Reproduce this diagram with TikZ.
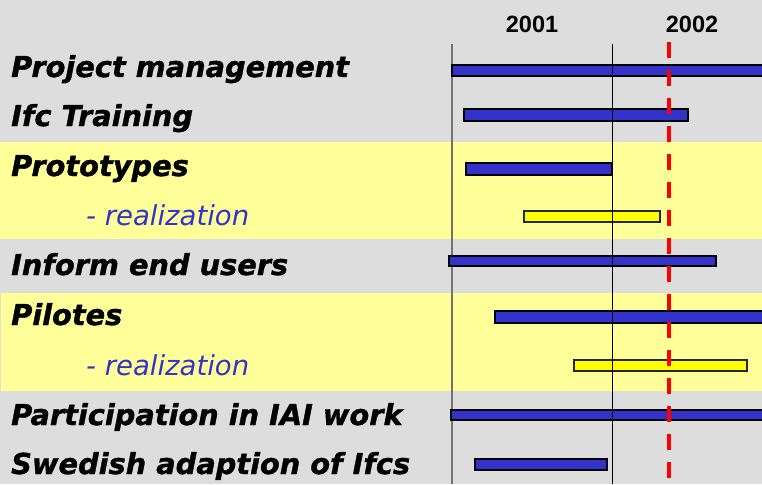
\documentclass[tikz,border=0pt]{standalone}
\usepackage{fontspec}
\newfontfamily\rowfont{DejaVu Sans}[BoldItalicFeatures={FakeBold=1.2}]
\newfontfamily\yearfont{Liberation Sans}
\definecolor{bggray}{HTML}{DDDDDD}
\definecolor{band}{HTML}{FFFF99}
\definecolor{barblue}{HTML}{3333CC}
\definecolor{baryellow}{HTML}{FFFF00}
\definecolor{txtblue}{HTML}{3333CC}
\definecolor{nowred}{HTML}{FF0000}
\tikzset{
  rowlabel/.style={anchor=base west, inner sep=0pt, font=\rowfont\fontsize{28.8}{30}\selectfont\bfseries\itshape, text=black},
  sublabel/.style={anchor=base west, inner sep=0pt, font=\rowfont\fontsize{27.5}{30}\selectfont\itshape, text=txtblue},
  yearlabel/.style={anchor=base, inner sep=0pt, font=\yearfont\fontsize{23.5}{25}\selectfont\bfseries},
  bluebar/.style={fill=barblue, draw=black, line width=1.4pt},
  yellowbar/.style={fill=baryellow, draw=black!85, line width=1.4pt},
  bandfill/.style={fill=band},
  gridline/.style={black, line width=1pt},
  startline/.style={black!55, line width=2pt},
  nowline/.style={nowred, line width=4pt, dash pattern=on 16pt off 12pt}
}
\begin{document}
\begin{tikzpicture}[x=1pt,y=-1pt]
\useasboundingbox (0,0) rectangle (762,484);
\clip (0,0) rectangle (762,484);
\fill[bggray] (0,0) rectangle (762,484);
% bands
\fill[bandfill] (0,142) rectangle (762,239);
\fill[bandfill] (1,293) rectangle (762,391);
% years
\node[yearlabel] (y2001) at (532,33) {2001};
\node[yearlabel] (y2002) at (692,33) {2002};
% grid lines
\coordinate (s0) at (452,44); \coordinate (s1) at (452,484);
\coordinate (m0) at (612,44); \coordinate (m1) at (612,484);
\draw[startline] (s0) -- (s1);
% bars
\draw[bluebar] (452,65) rectangle (770,76);
\draw[bluebar] (464,109) rectangle (688,121);
\draw[bluebar] (466,163) rectangle (612,175);
\draw[yellowbar] (524,211) rectangle (660,222);
\draw[bluebar] (449,256) rectangle (716,266);
\draw[bluebar] (495,311) rectangle (770,323);
\draw[yellowbar] (574,360) rectangle (747,371);
\draw[bluebar] (451,410) rectangle (770,420);
\draw[bluebar] (475,459) rectangle (607,470);
\draw[gridline] (m0) -- (m1);
% now line
\coordinate (n0) at (669,42); \coordinate (n1) at (669,480);
\draw[nowline] (n0) -- (n1);
% labels
\node[rowlabel] (l1) at (11,77) {Project management};
\node[rowlabel] (l2) at (11,126) {Ifc Training};
\node[rowlabel] (l3) at (11,176) {Prototypes};
\node[sublabel] (l4) at (86,225) {- realization};
\node[rowlabel] (l5) at (11,275) {Inform end users};
\node[rowlabel] (l6) at (11,325) {Pilotes};
\node[sublabel] (l7) at (86,375) {- realization};
\node[rowlabel] (l8) at (11,425) {Participation in IAI work};
\node[rowlabel] (l9) at (11,474) {Swedish adaption of Ifcs};
\end{tikzpicture}
\end{document}
